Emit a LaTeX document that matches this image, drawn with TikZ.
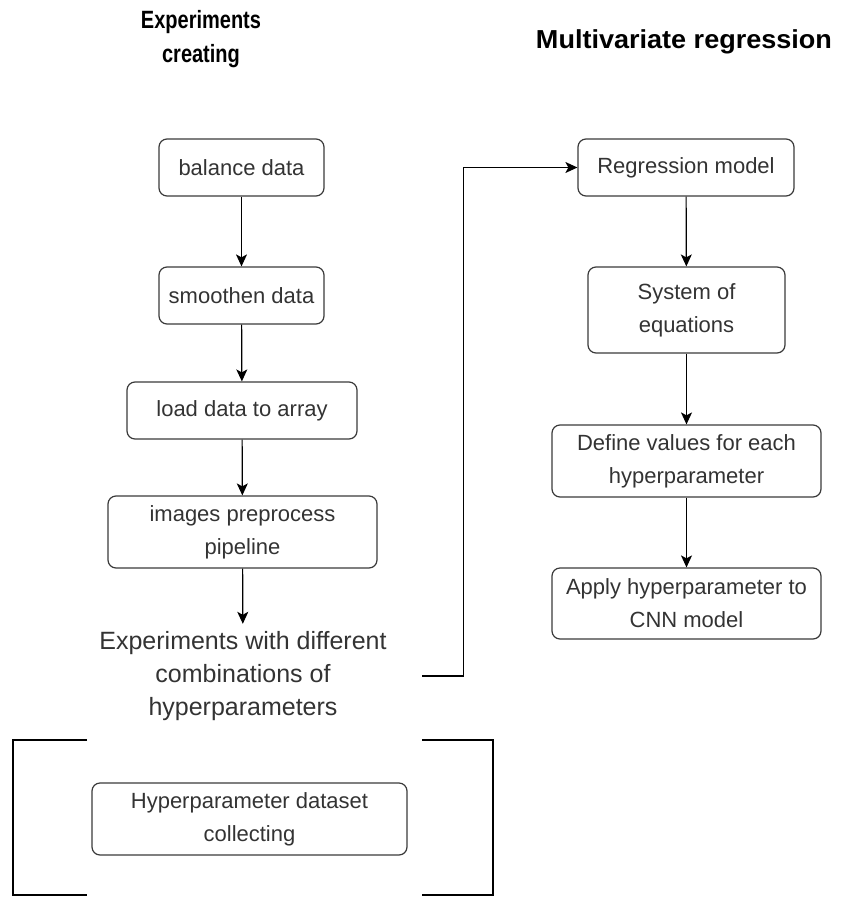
\documentclass[tikz,border=0pt]{standalone}
\usepackage{fontspec}
\setmainfont{Liberation Sans}
\newfontfamily\headfont[FakeStretch=0.8]{Liberation Sans}
\newfontfamily\wideheadfont[FakeStretch=1.04]{Liberation Sans}
\usetikzlibrary{arrows.meta}
\definecolor{boxline}{HTML}{3A3A3A}
\definecolor{textgray}{HTML}{333333}
\begin{document}
\begin{tikzpicture}[x=1pt,y=-1pt,
  stepbox/.style={draw=boxline, line width=1.2pt, rounded corners=8pt,
    align=center, inner sep=0pt, text=textgray,
    font=\fontsize{22}{33}\selectfont},
  freetext/.style={align=center, inner sep=0pt, text=textgray,
    font=\fontsize{25}{33}\selectfont},
  heading/.style={align=center, inner sep=0pt, text=black,
    font=\headfont\bfseries\fontsize{25}{34}\selectfont},
  flow/.style={draw=black, line width=1.2pt, -{Stealth[length=12pt,width=11pt,inset=3pt]}},
  bracket/.style={draw=black, line width=2.6pt}]
\useasboundingbox (0,0) rectangle (844,897);

% column headings
\node[heading] (hleft) at (201,39) {Experiments\\creating};
\node[heading, font=\wideheadfont\bfseries\fontsize{26}{34}\selectfont] (hright) at (684,42) {Multivariate regression};

% left column: preparing the experiments
\node[stepbox, minimum width=165, minimum height=57] (balance) at (241.5,167.5) {balance data};
\node[stepbox, minimum width=165, minimum height=57] (smooth) at (241.5,295.5) {smoothen data};
\node[stepbox, minimum width=230, minimum height=57] (load) at (242,410.5) {load data to array};
\node[stepbox, minimum width=269, minimum height=72] (images) at (242.5,532) {images preprocess\\pipeline};
\node[freetext, minimum width=358, minimum height=104] (exper) at (243,676)
  {Experiments with different\\combinations of\\hyperparameters};

% right column: regression
\node[stepbox, minimum width=216, minimum height=57] (regr) at (686,167.5) {Regression model};
\node[stepbox, minimum width=197, minimum height=86] (system) at (686.5,310) {System of\\equations};
\node[stepbox, minimum width=269, minimum height=72] (define) at (686.5,461) {Define values for each\\hyperparameter};
\node[stepbox, minimum width=269, minimum height=71] (apply) at (686.5,603.5) {Apply hyperparameter to\\CNN model};

% dataset collection block
\node[stepbox, minimum width=315, minimum height=72] (collect) at (249.5,819) {Hyperparameter dataset\\collecting};
\draw[bracket] (87,740) -- (13,740) -- (13,895) -- (87,895);
\draw[bracket] (422,740) -- (493,740) -- (493,895) -- (422,895);

% connectors
\draw[flow] (balance) -- (smooth);
\draw[flow] (smooth) -- (load);
\draw[flow] (load) -- (images);
\draw[flow] (images) -- (exper);
\draw[flow] (exper.east) -- ++(41,0) |- (regr.west);
\draw[flow] (regr) -- (system);
\draw[flow] (system) -- (define);
\draw[flow] (define) -- (apply);
\end{tikzpicture}
\end{document}
